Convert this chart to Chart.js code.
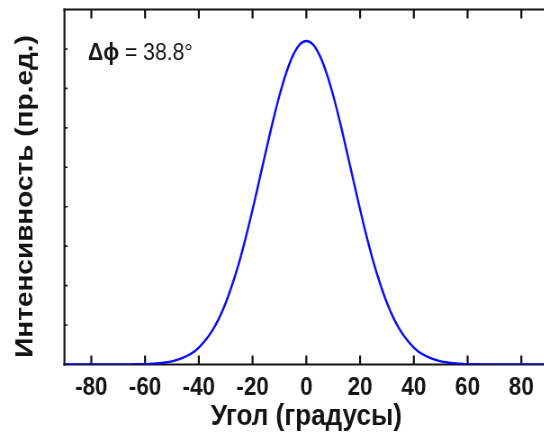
<!DOCTYPE html>
<html><head><meta charset="utf-8">
<script src="https://cdn.jsdelivr.net/npm/chart.js@4/dist/chart.umd.min.js"></script>
<style>
html,body{margin:0;padding:0;overflow:hidden;background:#fff;width:544px;height:432px}
#wrap{width:620px;height:432px;transform:scaleX(0.9);transform-origin:0 0}
canvas{display:block}
</style></head><body>
<div id="wrap"><canvas id="c" width="620" height="432" style="width:620px;height:432px"></canvas></div>
<script>
const angles = [-90,-85,-80,-75,-70,-65,-60,-57.5,-55,-52.5,-50,-47.5,-45,-42.5,-40,-37.5,-35,-32.5,-30,-27.5,-25,-22.5,-20,-17.5,-15,-12.5,-10,-7.5,-5,-2.5,
  0,2.5,5,7.5,10,12.5,15,17.5,20,22.5,25,27.5,30,32.5,35,37.5,40,42.5,45,47.5,50,52.5,55,57.5,60,65,70,75,80,85,90];
const intensity = [0,0,0,0,0.001,0.004,0.01,0.02,0.03,0.05,0.08,0.13,0.20,0.29,0.43,0.62,0.86,1.17,1.56,2.04,2.59,3.23,3.93,4.67,5.42,6.15,6.82,7.39,7.83,8.11,
  8.20,8.11,7.83,7.39,6.82,6.15,5.42,4.67,3.93,3.23,2.59,2.04,1.56,1.17,0.86,0.62,0.43,0.29,0.20,0.13,0.08,0.05,0.03,0.02,0.01,0.004,0.001,0,0,0,0];
const xTickValues = [-80,-60,-40,-20,0,20,40,60,80];
const yTickValues = [1,2,3,4,5,6,7,8];
const xTitle = 'Угол (градусы)';
const yTitle = 'Интенсивность (пр.ед.)';
const annotationBold = 'Δϕ';
const annotationRest = ' = 38.8°';

const FONT = 'Arial, "Liberation Sans", sans-serif';
const INK = '#141414';

const framePlugin = {
  id: 'frame',
  beforeDatasetsDraw(chart) {
    const {ctx, chartArea: a, scales: {x, y}} = chart;
    ctx.save();
    ctx.strokeStyle = INK;
    ctx.lineCap = 'butt';
    ctx.lineWidth = 2;
    ctx.beginPath();
    ctx.moveTo(a.left - 1.2, a.top); ctx.lineTo(a.right + 2, a.top);
    ctx.moveTo(a.left - 1.2, a.bottom); ctx.lineTo(a.right + 2, a.bottom);
    ctx.stroke();
    ctx.lineWidth = 2.2;
    ctx.beginPath();
    ctx.moveTo(a.left, a.top - 1); ctx.lineTo(a.left, a.bottom + 1);
    ctx.moveTo(a.right, a.top - 1); ctx.lineTo(a.right, a.bottom + 1);
    ctx.stroke();
    ctx.lineWidth = 2.2;
    ctx.beginPath();
    xTickValues.forEach(v => {
      const px = x.getPixelForValue(v);
      ctx.moveTo(px, a.bottom); ctx.lineTo(px, a.bottom - 9);
      ctx.moveTo(px, a.top); ctx.lineTo(px, a.top + 9);
    });
    ctx.stroke();
    ctx.lineWidth = 1.6;
    ctx.beginPath();
    yTickValues.forEach(v => {
      const py = y.getPixelForValue(v);
      ctx.moveTo(a.left, py); ctx.lineTo(a.left + 3.5, py);
    });
    ctx.stroke();
    ctx.restore();
  },
  afterDraw(chart) {
    const {ctx, chartArea: a} = chart;
    ctx.save();
    ctx.fillStyle = INK;
    ctx.textBaseline = 'alphabetic';
    ctx.textAlign = 'left';
    let tx = a.left + 26.2;
    const ty = 59.5;
    ctx.font = 'bold 23.5px ' + FONT;
    ctx.fillText(annotationBold, tx, ty);
    tx += ctx.measureText(annotationBold).width;
    ctx.font = '23.5px ' + FONT;
    ctx.fillText(annotationRest, tx, ty);
    // y axis title
    ctx.translate(35.9, 196.5);
    ctx.rotate(-Math.PI / 2);
    ctx.textAlign = 'center';
    ctx.font = 'bold 28px ' + FONT;
    ctx.fillText(yTitle, 0, 0);
    ctx.restore();
  }
};

new Chart(document.getElementById('c'), {
  type: 'line',
  data: {
    datasets: [{
      data: angles.map((a, i) => ({x: a, y: intensity[i]})),
      borderColor: '#0a0aff',
      borderWidth: 2.4,
      pointRadius: 0,
      fill: false,
      cubicInterpolationMode: 'monotone'
    }]
  },
  options: {
    responsive: false,
    animation: false,
    devicePixelRatio: 1,
    layout: {padding: {top: 9.5, right: 10.9, left: 0, bottom: 0}},
    plugins: {legend: {display: false}, tooltip: {enabled: false}},
    scales: {
      x: {
        type: 'linear', min: -90, max: 90,
        afterBuildTicks: s => { s.ticks = xTickValues.map(v => ({value: v})); },
        afterFit: s => { s.height = 67.5; },
        grid: {display: false, drawTicks: false}, border: {display: false},
        ticks: {font: {family: FONT, size: 25, weight: 'bold'}, color: INK, padding: 8.3, maxRotation: 0, autoSkip: false},
        title: {display: true, text: xTitle, color: INK, font: {family: FONT, size: 29, weight: 'bold', lineHeight: 1.05}, padding: {top: 0, bottom: 0}}
      },
      y: {
        type: 'linear', min: 0, max: 9,
        afterBuildTicks: s => { s.ticks = yTickValues.map(v => ({value: v})); },
        afterFit: s => { s.width = 71.6; },
        grid: {display: false, drawTicks: false}, border: {display: false},
        ticks: {display: false},
        title: {display: false}
      }
    }
  },
  plugins: [framePlugin]
});
</script>
</body></html>
